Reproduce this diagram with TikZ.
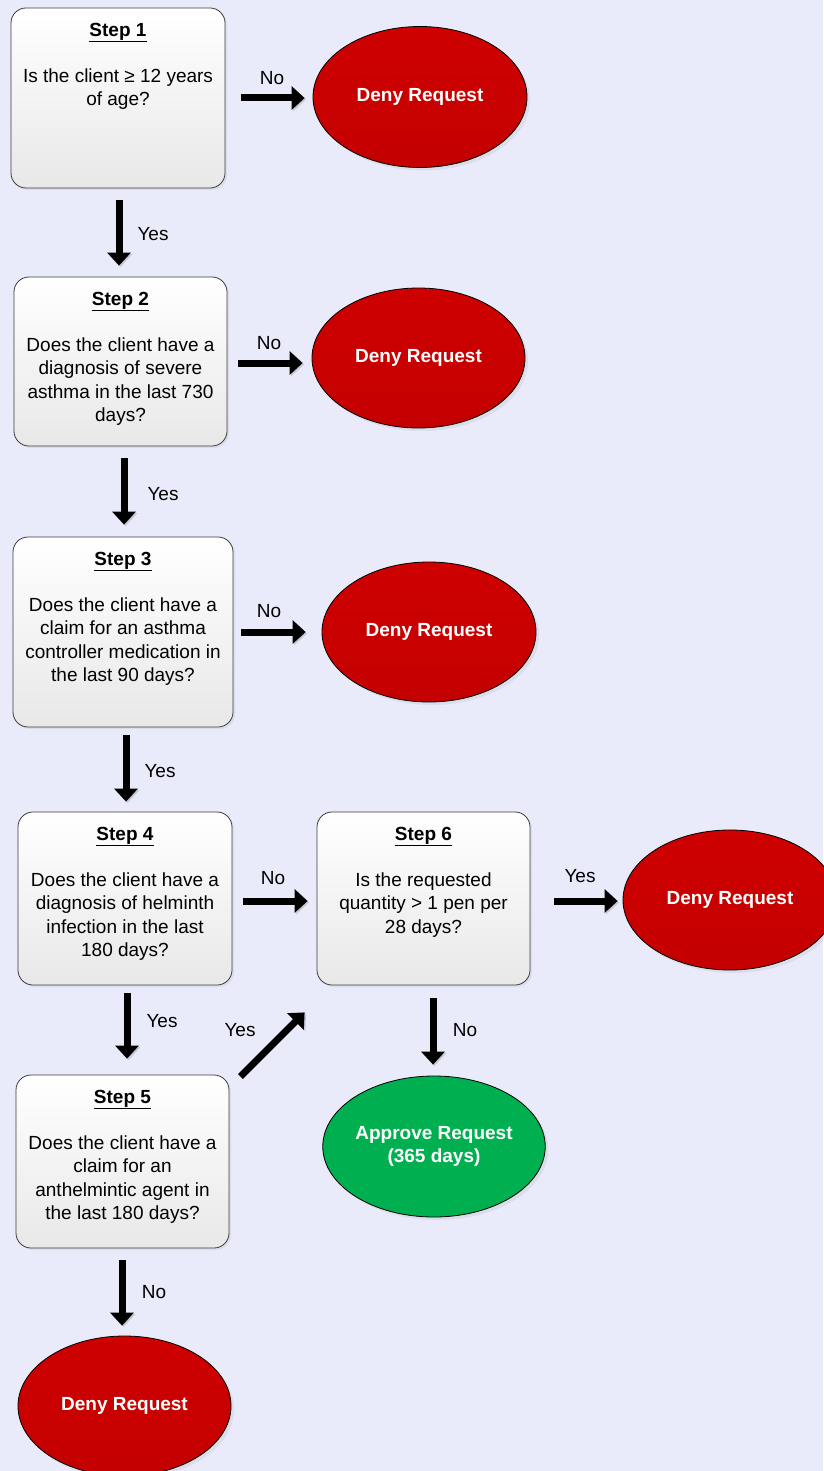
\documentclass[tikz,border=0pt]{standalone}
\usepackage{fontspec}
\setmainfont{Liberation Sans}
\usetikzlibrary{arrows.meta,shadows,shapes.geometric}
\definecolor{bgcol}{RGB}{233,234,250}
\definecolor{denyred}{RGB}{196,0,0}
\definecolor{denytop}{RGB}{206,0,0}
\definecolor{okgreen}{RGB}{0,176,80}
\definecolor{boxline}{RGB}{60,60,60}
\begin{document}
\begin{tikzpicture}[x=1pt,y=1pt,
  every node/.style={font=\fontsize{19}{23.3}\selectfont},
  stepbox/.style={draw=boxline, line width=0.8pt, rounded corners=15pt,
    top color=white, bottom color=black!9, inner sep=0pt,
    drop shadow={shadow xshift=2pt, shadow yshift=-2pt, opacity=0.12}},
  steptext/.style={anchor=north, align=center, inner sep=0pt},
  outcome/.style={ellipse, draw=black, line width=0.8pt, inner sep=0pt,
    text=white, align=center,
    font=\fontsize{19}{23.3}\selectfont\bfseries,
    drop shadow={shadow xshift=3pt, shadow yshift=-3pt, opacity=0.12}},
  deny/.style={outcome, top color=denytop, bottom color=denyred},
  approve/.style={outcome, fill=okgreen},
  flow/.style={line width=7pt, -{Triangle[width=23pt,length=13pt]},
    preaction={draw=black!45, opacity=0.35,
      transform canvas={shift={(1.5pt,-1.5pt)}}}},
  lbl/.style={inner sep=0pt}
]
\fill[bgcol] (0,0) rectangle (823,-1471);
\useasboundingbox (0,0) rectangle (823,-1471);

% decision boxes
\node[stepbox, minimum width=214pt, minimum height=180pt] (s1) at (118,-98) {};
\node[stepbox, minimum width=213pt, minimum height=169pt] (s2) at (120.5,-361.5) {};
\node[stepbox, minimum width=220pt, minimum height=190pt] (s3) at (123,-632) {};
\node[stepbox, minimum width=214pt, minimum height=173pt] (s4) at (125,-898.5) {};
\node[stepbox, minimum width=213pt, minimum height=173pt] (s6) at (423.5,-898.5) {};
\node[stepbox, minimum width=213pt, minimum height=173pt] (s5) at (122.5,-1161.5) {};

\node[steptext] (t1) at ([yshift=-15pt]s1.north) {\textbf{\underline{Step 1}}\\[23.3pt]Is the client ≥ 12 years\\of age?};
\node[steptext] (t2) at ([yshift=-15pt]s2.north) {\textbf{\underline{Step 2}}\\[23.3pt]Does the client have a\\diagnosis of severe\\asthma in the last 730\\days?};
\node[steptext] (t3) at ([yshift=-15pt]s3.north) {\textbf{\underline{Step 3}}\\[23.3pt]Does the client have a\\claim for an asthma\\controller medication in\\the last 90 days?};
\node[steptext] (t4) at ([yshift=-15pt]s4.north) {\textbf{\underline{Step 4}}\\[23.3pt]Does the client have a\\diagnosis of helminth\\infection in the last\\180 days?};
\node[steptext] (t6) at ([yshift=-15pt]s6.north) {\textbf{\underline{Step 6}}\\[23.3pt]Is the requested\\quantity > 1 pen per\\28 days?};
\node[steptext] (t5) at ([yshift=-15pt]s5.north) {\textbf{\underline{Step 5}}\\[23.3pt]Does the client have a\\claim for an\\anthelmintic agent in\\the last 180 days?};

% outcomes
\node[deny, minimum width=214pt, minimum height=141pt] (d1) at (420,-97) {Deny Request};
\node[deny, minimum width=213pt, minimum height=140pt] (d2) at (418.5,-358) {Deny Request};
\node[deny, minimum width=214pt, minimum height=140pt] (d3) at (429,-632) {Deny Request};
\node[deny, minimum width=214pt, minimum height=140pt] (d6) at (730,-900) {Deny Request};
\node[approve, minimum width=216pt, minimum height=141pt] (ap) at (434,-1146.5) {Approve Request\\(365 days)};
\node[deny, minimum width=213pt, minimum height=140pt] (d5) at (124.5,-1406) {Deny Request};

% connectors
\draw[flow, shorten <=16pt, shorten >=8pt] (s1.east) -- (s1.east -| d1.west);
\draw[flow, shorten <=11pt, shorten >=9pt] ([yshift=-1.5pt]s2.east) -- ([yshift=-1.5pt]s2.east -| d2.west);
\draw[flow, shorten <=8pt, shorten >=16pt] (s3.east) -- (s3.east -| d3.west);
\draw[flow, shorten <=11pt, shorten >=9pt] ([yshift=-2.5pt]s4.east) -- ([yshift=-2.5pt]s6.west);
\draw[flow, shorten <=24pt, shorten >=5pt] ([yshift=-2.5pt]s6.east) -- ([yshift=-2.5pt]s6.east -| d6.west);

\draw[flow, shorten <=12pt, shorten >=11pt] ([xshift=1pt]s1.south) -- ([xshift=1pt]s1.south |- s2.north);
\draw[flow, shorten <=12pt, shorten >=12pt] ([xshift=1pt]s2.south -| s3.north) -- ([xshift=1pt]s3.north);
\draw[flow, shorten <=8pt, shorten >=10pt] ([xshift=1pt]s3.south -| s4.north) -- ([xshift=1pt]s4.north);
\draw[flow, shorten <=8pt, shorten >=16pt] ([xshift=2pt]s4.south) -- ([xshift=2pt]s4.south |- s5.north);
\draw[flow] ([shift={(11pt,-2pt)}]s5.north east) -- ([shift={(-12pt,-27pt)}]s6.south west);
\draw[flow, shorten <=13pt, shorten >=11pt] ([xshift=-1pt]s6.south -| ap.north) -- ([xshift=-1pt]ap.north);
\draw[flow, shorten <=12pt, shorten >=10pt] ([xshift=-0.5pt]s5.south) -- ([xshift=-0.5pt]s5.south |- d5.north);

% connector labels
\node[lbl] (n1) at (272,-78) {No};
\node[lbl] (n2) at (269,-343) {No};
\node[lbl] (n3) at (269,-611) {No};
\node[lbl] (n4) at (273,-878) {No};
\node[lbl] (y6) at (580,-876) {Yes};
\node[lbl] (y1) at (153,-234) {Yes};
\node[lbl] (y2) at (163,-494) {Yes};
\node[lbl] (y3) at (160,-771) {Yes};
\node[lbl] (y4) at (162,-1021) {Yes};
\node[lbl] (y5) at (240,-1030) {Yes};
\node[lbl] (n6) at (465,-1030) {No};
\node[lbl] (n5) at (154,-1292) {No};
\end{tikzpicture}
\end{document}
